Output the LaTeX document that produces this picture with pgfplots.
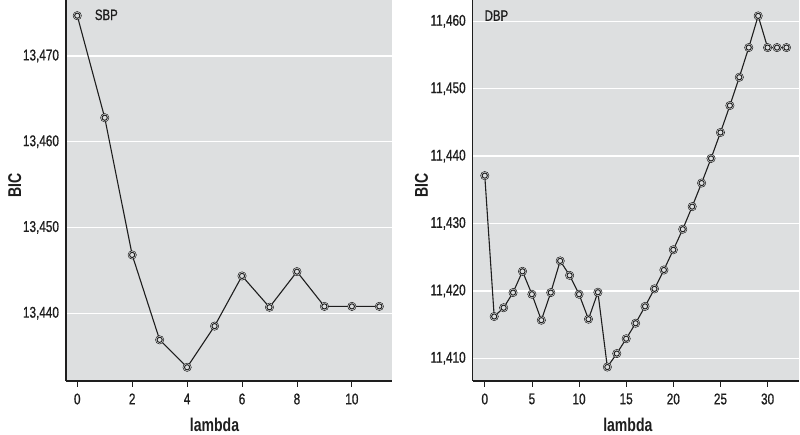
\documentclass[border=0pt]{standalone}
\usepackage{fontspec}
\setmainfont{Liberation Sans}[FakeStretch=0.76]
\newfontfamily\tickfont{Liberation Sans}[FakeStretch=0.76, FakeBold=0.8]
\usepackage{pgfplots}
\pgfplotsset{compat=1.18}
\usepackage{pgfplotstable}
\definecolor{bg}{RGB}{221,223,224}
\definecolor{ink}{RGB}{30,30,30}

\pgfplotstableread{
x y
0 13474.7
1 13462.8
2 13446.8
3 13436.9
4 13433.7
5 13438.5
6 13444.35
7 13440.7
8 13444.85
9 13440.8
10 13440.8
11 13440.8
}\sbp

\pgfplotstableread{
x y
0 11437.1
1 11416.2
2 11417.5
3 11419.75
4 11422.9
5 11419.5
6 11415.65
7 11419.75
8 11424.45
9 11422.3
10 11419.5
11 11415.8
12 11419.8
13 11408.7
14 11410.7
15 11412.9
16 11415.2
17 11417.7
18 11420.3
19 11423.1
20 11426.1
21 11429.15
22 11432.5
23 11436.0
24 11439.65
25 11443.5
26 11447.5
27 11451.7
28 11456.1
29 11460.8
30 11456.1
31 11456.1
32 11456.1
}\dbp

\pgfplotsset{
  bicstyle/.style={
    scale only axis, anchor=south west,
    height=381pt,
    axis lines*=left,
    axis line style={ink, line width=1.2pt},
    axis background/.style={fill=bg},
    ymajorgrids, grid style={white, line width=1.3pt},
    tick align=outside,
    major tick length=6pt,
    ytick style={draw=none},
    xtick style={ink, line width=0.8pt},
    tick label style={font=\tickfont\fontsize{15.5}{17}\selectfont, text=ink},
    xticklabel style={yshift=-3pt},
    yticklabel style={xshift=2.5pt},
    /pgf/number format/assume math mode=true,
    /pgf/number format/1000 sep={,},
    scaled y ticks=false,
    label style={font=\bfseries\fontsize{18.5}{20}\selectfont, text=ink},
    ylabel=BIC, xlabel=lambda,
    ylabel style={at={(axis description cs:-0.157,0.513)}, anchor=center},
    clip=false,
  },
  lineplot/.style={ink, line width=1.1pt, no marks},
  gapplot/.style={only marks, mark=*, mark size=4.2pt, mark options={fill=bg, draw=none}},
  markplot/.style={only marks, mark=*, mark size=2.6pt, mark options={draw=ink, fill=bg, line width=0.95pt}},
}

\begin{document}
\begin{tikzpicture}
\path[use as bounding box] (0pt,0pt) rectangle (800pt,435pt);
\begin{axis}[bicstyle, at={(66pt,54pt)}, width=325.7pt,
  xmin=-0.41, xmax=11.45, ymin=13432.1, ymax=13476.53,
  xtick={0,2,4,6,8,10}, ytick={13440,13450,13460,13470},
  xlabel style={at={(axis description cs:0.456,-0.1155)}, anchor=center}]
\addplot[lineplot] table {\sbp};
\addplot[gapplot] table {\sbp};
\addplot[markplot] table {\sbp};
\node[anchor=west, font=\tickfont\fontsize{15}{17}\selectfont, text=ink] at (rel axis cs:0.078,0.961) {SBP};
\end{axis}
\begin{axis}[bicstyle, at={(472.7pt,54pt)}, width=326pt,
  xmin=-1.28, xmax=33.3, ymin=11406.63, ymax=11463.16,
  xtick={0,5,10,15,20,25,30}, ytick={11410,11420,11430,11440,11450,11460},
  xlabel style={at={(axis description cs:0.476,-0.1155)}, anchor=center}]
\addplot[lineplot] table {\dbp};
\addplot[gapplot] table {\dbp};
\addplot[markplot] table {\dbp};
\node[anchor=west, font=\tickfont\fontsize{15}{17}\selectfont, text=ink] at (rel axis cs:0.026,0.959) {DBP};
\end{axis}
\end{tikzpicture}
\end{document}
